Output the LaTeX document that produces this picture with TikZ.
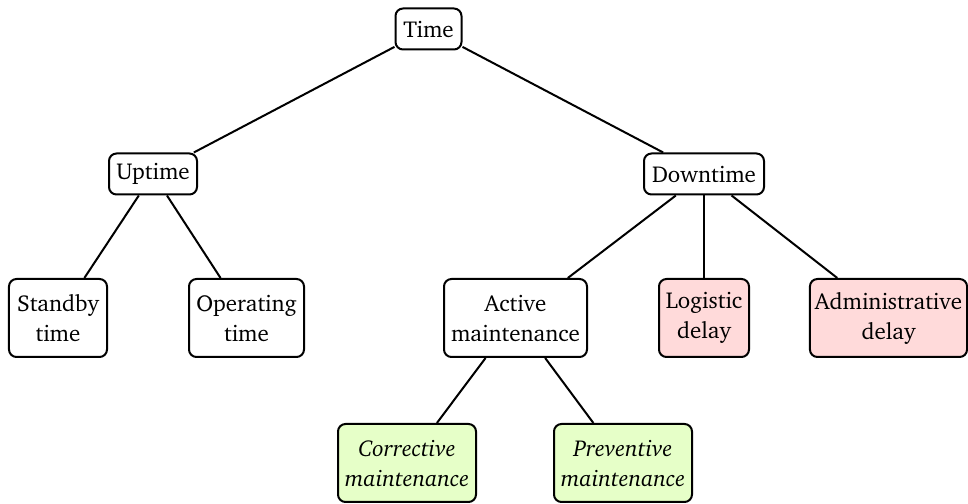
\documentclass[tikz,border=0pt]{standalone}
\usepackage[T1]{fontenc}
\usepackage{charter}
\definecolor{delaypink}{RGB}{255,218,218}
\definecolor{maintgreen}{RGB}{230,255,200}
\newcommand{\boxfont}{\fontsize{9.2}{12}\selectfont}
\tikzset{
  box/.style={draw=black, line width=0.8pt, rounded corners=3pt, align=center,
              inner sep=2pt, font=\boxfont},
  single/.style={box, minimum height=16.4pt},
  double/.style={box, minimum height=31.2pt},
  delay/.style={double, fill=delaypink},
  maint/.style={double, fill=maintgreen, font=\boxfont\itshape},
  link/.style={line width=0.8pt}
}
\begin{document}
\begin{tikzpicture}[x=0.4pt,y=-0.4pt]
  \useasboundingbox (0,0) rectangle (968,504);
  % top level
  \node[single, minimum width=26.4pt] (time) at (428.5,29) {Time};
  % second level
  \node[single, minimum width=35.2pt] (up)   at (153,174) {Uptime};
  \node[single, minimum width=48pt]   (down) at (704,174) {Downtime};
  % third level
  \node[double, minimum width=39.2pt] (standby) at (58,318)    {Standby\\time};
  \node[double, minimum width=46pt]   (oper)    at (246.5,318) {Operating\\time};
  \node[double, minimum width=57.2pt] (active)  at (515.5,318) {Active\\maintenance};
  \node[delay,  minimum width=36pt]   (logi)    at (704,318)   {Logistic\\delay};
  \node[delay,  minimum width=62pt]   (admin)   at (888.5,318) {Administrative\\delay};
  % fourth level
  \node[maint, minimum width=55.2pt] (corr) at (407,463) {Corrective\\maintenance};
  \node[maint, minimum width=55.2pt] (prev) at (623,463) {Preventive\\maintenance};
  % connectors
  \draw[link] (time) -- (up);
  \draw[link] (time) -- (down);
  \draw[link] (up) -- (standby);
  \draw[link] (up) -- (oper);
  \draw[link] (down) -- (active);
  \draw[link] (down) -- (logi);
  \draw[link] (down) -- (admin);
  \draw[link] (active) -- (corr);
  \draw[link] (active) -- (prev);
\end{tikzpicture}
\end{document}
